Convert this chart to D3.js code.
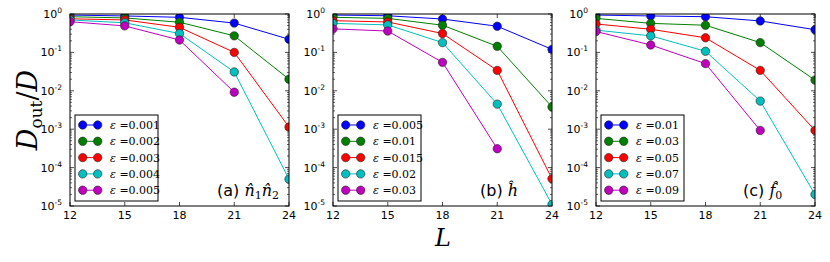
<!DOCTYPE html>
<html><head><meta charset="utf-8">
<script src="https://cdn.jsdelivr.net/npm/d3@7"></script>
<style>body{margin:0;background:#fff}svg{display:block}</style>
</head><body><svg id="c" width="830" height="262"></svg>
<script>
const L = [12, 15, 18, 21, 24];
const colors = ["#0000ff", "#008000", "#ff0000", "#00bfbf", "#bf00bf"];
const yTicks = [0, -1, -2, -3, -4, -5];
const xTicks = [12, 15, 18, 21, 24];

const epsA = ["0.001", "0.002", "0.003", "0.004", "0.005"];
const valsA = [
  [0.94, 0.89, 0.82, 0.58, 0.22],
  [0.85, 0.79, 0.61, 0.27, 0.020],
  [0.75, 0.70, 0.45, 0.10, 0.00114],
  [0.70, 0.59, 0.31, 0.031, 5.0e-5],
  [0.63, 0.49, 0.21, 0.0092, null]
];
const epsB = ["0.005", "0.01", "0.015", "0.02", "0.03"];
const valsB = [
  [0.94, 0.90, 0.74, 0.48, 0.12],
  [0.82, 0.77, 0.51, 0.144, 0.0038],
  [0.67, 0.62, 0.31, 0.034, 5.1e-5],
  [0.57, 0.52, 0.18, 0.0045, 1.1e-5],
  [0.41, 0.36, 0.055, 3.1e-4, null]
];
const epsC = ["0.01", "0.03", "0.05", "0.07", "0.09"];
const valsC = [
  [0.94, 0.89, 0.85, 0.66, 0.39],
  [0.77, 0.57, 0.51, 0.18, 0.019],
  [0.55, 0.40, 0.24, 0.034, 9.3e-4],
  [0.38, 0.27, 0.107, 0.0054, 2.0e-5],
  [0.35, 0.156, 0.051, 9.3e-4, null]
];

const panels = [
  {left: 70, eps: epsA, vals: valsA, tag: "(a)", lab: "a"},
  {left: 333, eps: epsB, vals: valsB, tag: "(b)", lab: "b"},
  {left: 596, eps: epsC, vals: valsC, tag: "(c)", lab: "c"}
];

const svg = d3.select("#c");
const W = 219, H = 192, T0 = 14;
const serif = "'DejaVu Serif', 'Liberation Serif', serif";
const sans = "'DejaVu Sans', sans-serif";

panels.forEach((p, pi) => {
  const x = d3.scaleLinear().domain([12, 24]).range([p.left, p.left + W]);
  const y = d3.scaleLog().domain([1e-5, 1]).range([T0 + H, T0]);
  const g = svg.append("g");
  const cid = "clip" + pi;
  svg.append("defs").append("clipPath").attr("id", cid)
    .append("rect").attr("x", p.left).attr("y", T0).attr("width", W).attr("height", H);

  const minors = [];
  for (let e = -5; e < 0; e++) for (let k = 2; k <= 9; k++) minors.push(k * Math.pow(10, e));
  minors.forEach(v => {
    g.append("line").attr("x1", p.left).attr("x2", p.left + 2).attr("y1", y(v)).attr("y2", y(v)).attr("stroke", "#000").attr("stroke-width", 0.6);
    g.append("line").attr("x1", p.left + W).attr("x2", p.left + W - 2).attr("y1", y(v)).attr("y2", y(v)).attr("stroke", "#000").attr("stroke-width", 0.6);
  });
  yTicks.forEach(e => {
    const v = Math.pow(10, e);
    g.append("line").attr("x1", p.left).attr("x2", p.left + 4).attr("y1", y(v)).attr("y2", y(v)).attr("stroke", "#000").attr("stroke-width", 0.7);
    g.append("line").attr("x1", p.left + W).attr("x2", p.left + W - 4).attr("y1", y(v)).attr("y2", y(v)).attr("stroke", "#000").attr("stroke-width", 0.7);
    const t = g.append("text").attr("x", p.left - 8).attr("y", y(v) + 4).attr("text-anchor", "end")
      .attr("font-family", sans).attr("font-size", 11).attr("fill", "#000");
    t.append("tspan").text("10");
    t.append("tspan").attr("dy", -5).attr("font-size", 7.5).text(e);
  });
  xTicks.forEach(v => {
    g.append("line").attr("x1", x(v)).attr("x2", x(v)).attr("y1", T0 + H).attr("y2", T0 + H - 4).attr("stroke", "#000").attr("stroke-width", 0.7);
    g.append("line").attr("x1", x(v)).attr("x2", x(v)).attr("y1", T0).attr("y2", T0 + 4).attr("stroke", "#000").attr("stroke-width", 0.7);
    g.append("text").attr("x", x(v)).attr("y", T0 + H + 13).attr("text-anchor", "middle")
      .attr("font-family", sans).attr("font-size", 11).attr("fill", "#000").text(v);
  });

  const line = d3.line().defined(d => d[1] != null).x(d => x(d[0])).y(d => y(d[1]));
  const dg = g.append("g").attr("clip-path", `url(#${cid})`);
  p.vals.forEach((s, si) => {
    const pts = L.map((l, i) => [l, s[i]]);
    dg.append("path").attr("d", line(pts)).attr("fill", "none").attr("stroke", colors[si]).attr("stroke-width", 1);
  });
  p.vals.forEach((s, si) => {
    L.forEach((l, i) => {
      if (s[i] == null) return;
      dg.append("circle").attr("cx", x(l)).attr("cy", y(s[i])).attr("r", 4.2)
        .attr("fill", colors[si]).attr("stroke", "#222").attr("stroke-width", 0.6);
    });
  });

  g.append("rect").attr("x", p.left).attr("y", T0).attr("width", W).attr("height", H)
    .attr("fill", "none").attr("stroke", "#000").attr("stroke-width", 1);

  const lx = p.left + 5, ly = 115;
  g.append("rect").attr("x", lx).attr("y", ly).attr("width", 83).attr("height", 86)
    .attr("fill", "#fff").attr("stroke", "#000").attr("stroke-width", 1);
  p.eps.forEach((e, i) => {
    const yy = ly + 10 + i * 16.3;
    g.append("line").attr("x1", lx + 7.7).attr("x2", lx + 22.7).attr("y1", yy).attr("y2", yy).attr("stroke", colors[i]).attr("stroke-width", 1);
    [lx + 7.7, lx + 22.7].forEach(cx => g.append("circle").attr("cx", cx).attr("cy", yy).attr("r", 4.2)
      .attr("fill", colors[i]).attr("stroke", "#222").attr("stroke-width", 0.6));
    const t = g.append("text").attr("x", lx + 35).attr("y", yy + 4).attr("font-family", serif)
      .attr("font-size", 11).attr("fill", "#000");
    t.append("tspan").attr("font-style", "italic").text("ε");
    t.append("tspan").text(" =" + e);
  });

  const t = g.append("text").attr("x", p.left + 147).attr("y", 196)
    .attr("fill", "#000").attr("font-size", 16);
  t.append("tspan").attr("font-family", sans).text(p.tag + " ");
  if (p.lab === "a") {
    t.append("tspan").attr("font-family", serif).attr("font-style", "italic").text("n\u0302");
    t.append("tspan").attr("font-family", serif).attr("font-size", 11).attr("dy", 3).text("1");
    t.append("tspan").attr("font-family", serif).attr("font-style", "italic").attr("dy", -3).text("n\u0302");
    t.append("tspan").attr("font-family", serif).attr("font-size", 11).attr("dy", 3).text("2");
  } else if (p.lab === "b") {
    t.append("tspan").attr("font-family", serif).attr("font-style", "italic").text("h\u0302");
  } else {
    t.append("tspan").attr("font-family", serif).attr("font-style", "italic").text("f\u0302");
    t.append("tspan").attr("font-family", serif).attr("font-size", 11).attr("dy", 3).text("0");
  }
});

svg.append("text").attr("x", 443).attr("y", 246).attr("text-anchor", "middle")
  .attr("font-family", serif).attr("font-style", "italic").attr("font-size", 24).attr("fill", "#000").text("L");
const yl = svg.append("text").attr("transform", "translate(37,110) rotate(-90)").attr("text-anchor", "middle")
  .attr("font-family", serif).attr("font-size", 27).attr("fill", "#000");
yl.append("tspan").attr("font-style", "italic").text("D");
yl.append("tspan").attr("font-size", 17).attr("dy", 5).text("out");
yl.append("tspan").attr("dy", -5).text("/");
yl.append("tspan").attr("font-style", "italic").text("D");
</script></body></html>
